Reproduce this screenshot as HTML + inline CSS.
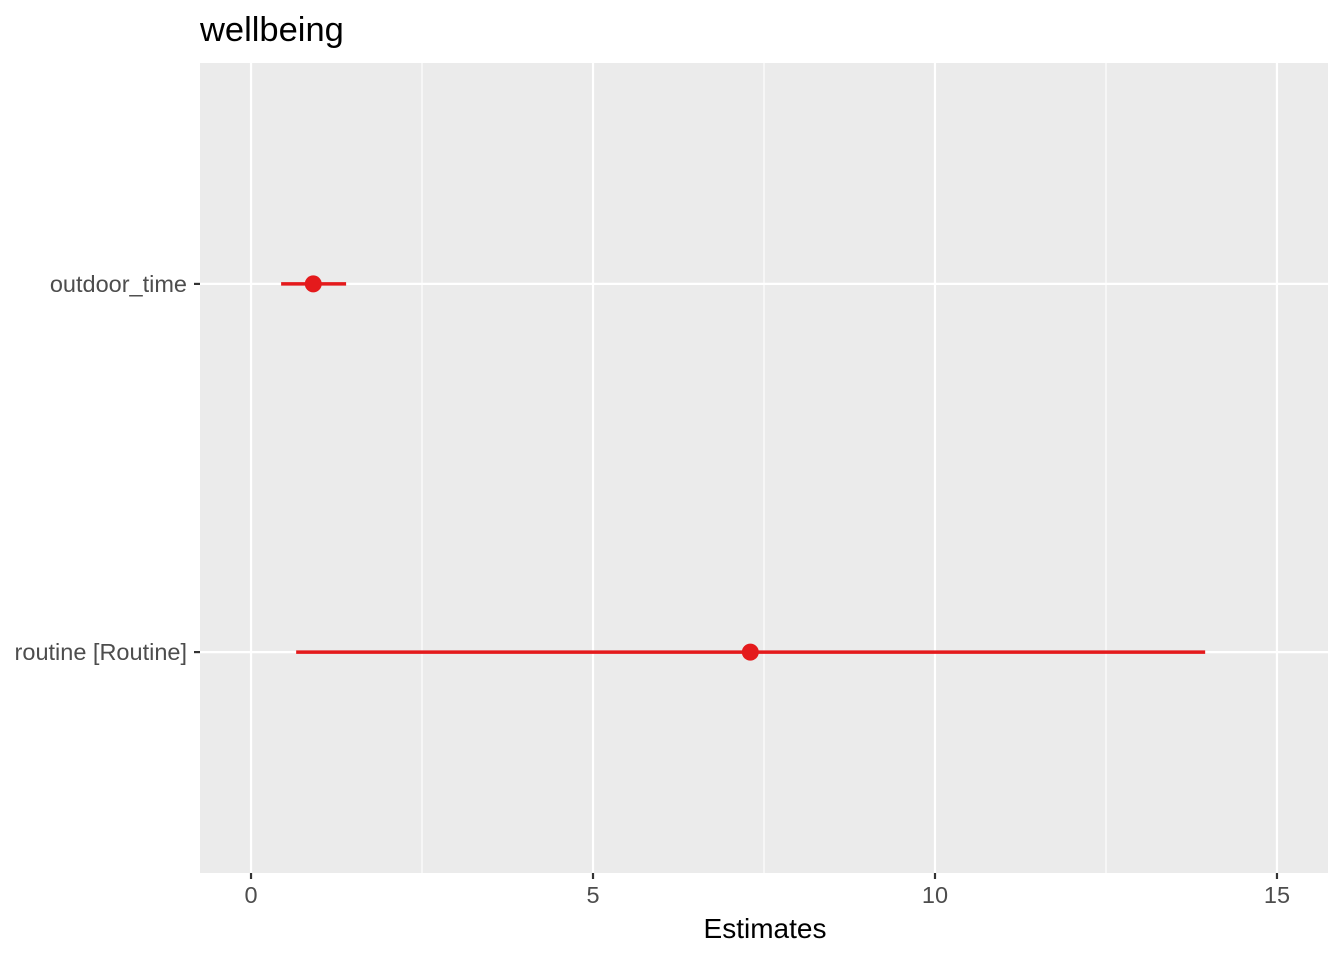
<!DOCTYPE html>
<html><head><meta charset="utf-8"><style>
body{margin:0;background:#fff;}
svg text{font-family:"Liberation Sans",Arial,sans-serif;}
</style></head><body>
<svg id="chart" width="1344" height="960" xmlns="http://www.w3.org/2000/svg">
<text x="200" y="41" font-size="34.5" fill="#000">wellbeing</text>
<rect x="200" y="63" width="1128" height="810" fill="#ebebeb"/>
<g id="grid"></g>
<g id="marks"></g>
<g id="axes"></g>
<text x="765" y="938" font-size="28" text-anchor="middle" fill="#000">Estimates</text>
</svg>
<script>
const categories = ["outdoor_time", "routine [Routine]"];
const estimates = [0.91, 7.30];
const ciLow = [0.44, 0.66];
const ciHigh = [1.39, 13.95];
const xTicks = [0, 5, 10, 15];
const xTickLabels = ["0", "5", "10", "15"];

const NS = "http://www.w3.org/2000/svg";
const px0 = 200, px1 = 1328, py0 = 63, py1 = 873;
const xMin = -0.746, xMax = 15.746;
function xs(v){ return px0 + (v - xMin) / (xMax - xMin) * (px1 - px0); }
function ys(i){ const lo = 0.4, hi = 2.6; return py0 + ((i + 1) - lo) / (hi - lo) * (py1 - py0); }
function mk(tag, attrs, parent){ const e = document.createElementNS(NS, tag); for (const k in attrs) e.setAttribute(k, attrs[k]); parent.appendChild(e); return e; }
const grid = document.getElementById('grid'), marks = document.getElementById('marks'), axes = document.getElementById('axes');

for (let i = 0; i < xTicks.length - 1; i++) {
  const m = (xTicks[i] + xTicks[i+1]) / 2;
  const l = mk('line', {x1: xs(m), x2: xs(m), y1: py0, y2: py1, stroke: '#fff', 'stroke-width': 1.1}, grid);
  
  
}
xTicks.forEach((t, i) => {
  const l = mk('line', {x1: xs(t), x2: xs(t), y1: py0, y2: py1, stroke: '#fff', 'stroke-width': 2.2}, grid);
  
  
  const tk = mk('line', {x1: xs(t), x2: xs(t), y1: py1, y2: py1 + 6, stroke: '#333', 'stroke-width': 2.2}, axes);
  
  
  const tx = mk('text', {x: xs(t), y: 903, 'font-size': 23.5, 'text-anchor': 'middle', fill: '#4d4d4d'}, axes);
  tx.textContent = xTickLabels[i];
  
  
});
categories.forEach((c, i) => {
  const y = ys(i);
  const g = mk('line', {x1: px0, x2: px1, y1: y, y2: y, stroke: '#fff', 'stroke-width': 2.2}, grid);
  
  
  const tk = mk('line', {x1: px0 - 6, x2: px0, y1: y, y2: y, stroke: '#333', 'stroke-width': 2.2}, axes);
  
  
  const tx = mk('text', {x: 187, y: y + 8, 'font-size': 23.5, 'text-anchor': 'end', fill: '#4d4d4d'}, axes);
  tx.textContent = c;
  
  
  const ci = mk('line', {x1: xs(ciLow[i]), x2: xs(ciHigh[i]), y1: y, y2: y, stroke: '#e41a1c', 'stroke-width': 3.5}, marks);
  
  
  const p = mk('circle', {cx: xs(estimates[i]), cy: y, r: 8.5, fill: '#e41a1c'}, marks);
  
  
});
</script>
</body></html>
